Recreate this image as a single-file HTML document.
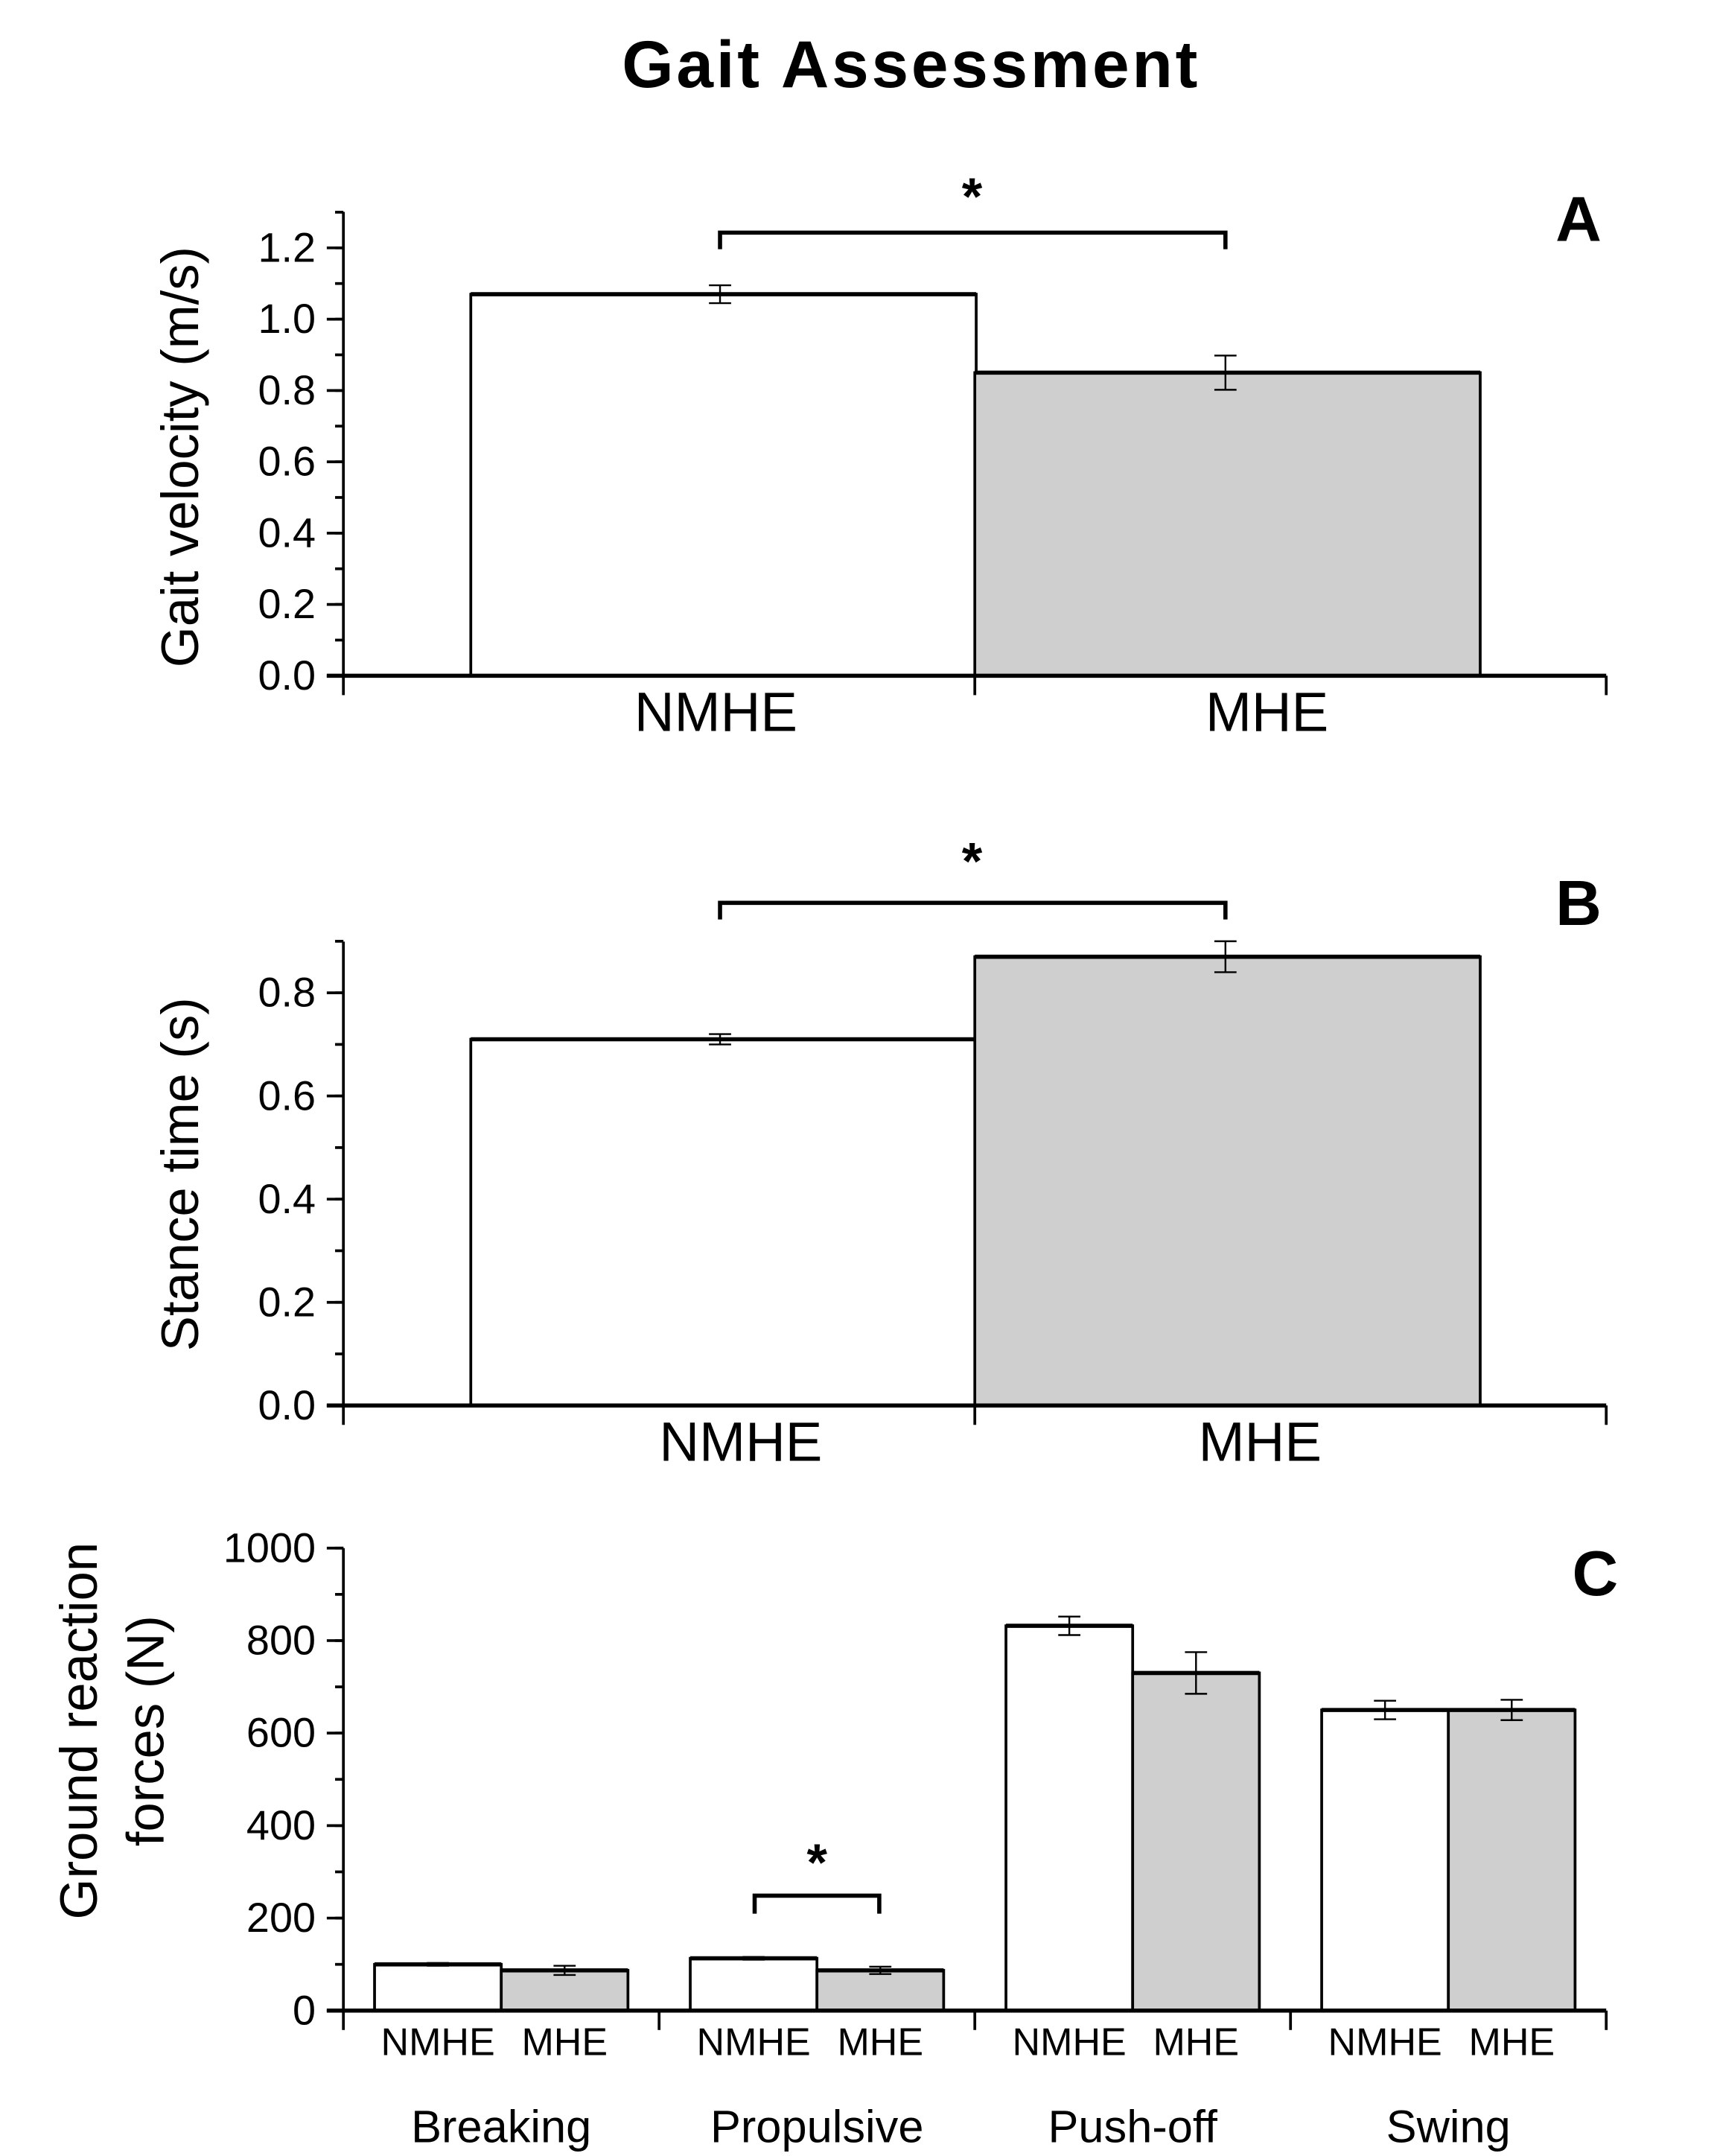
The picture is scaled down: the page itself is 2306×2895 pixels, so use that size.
<!DOCTYPE html>
<html><head><meta charset="utf-8"><style>
html,body{margin:0;padding:0;background:#fff}
svg{display:block}
text{font-family:"Liberation Sans",Arial,sans-serif;fill:#000}
</style></head>
<body>
<svg id="chart" width="2306" height="2895" viewBox="0 0 1240 1557" preserveAspectRatio="none" xmlns="http://www.w3.org/2000/svg">
<rect width="1240" height="1557" fill="#fff"/>
<text x="658" y="63" font-size="48" font-weight="bold" text-anchor="middle" letter-spacing="2">Gait  Assessment</text>
<g id="plots"></g>
</svg>
<script>
// Panel A data
const aCats = ["NMHE", "MHE"];
const aVals = [1.07, 0.85];
const aErr = [0.025, 0.048];
const aTicks = [0.0, 0.2, 0.4, 0.6, 0.8, 1.0, 1.2];
// Panel B data
const bCats = ["NMHE", "MHE"];
const bVals = [0.71, 0.87];
const bErr = [0.01, 0.03];
const bTicks = [0.0, 0.2, 0.4, 0.6, 0.8];
// Panel C data
const cGroups = ["Breaking", "Propulsive", "Push-off", "Swing"];
const cNMHE = [100, 113, 832, 650];
const cMHE = [87, 87, 730, 650];
const cErrN = [3, 3, 20, 20];
const cErrM = [10, 8, 45, 22];
const cTicks = [0, 200, 400, 600, 800, 1000];

const NS = "http://www.w3.org/2000/svg";
const root = document.getElementById('plots');
function mk(tag, attrs, parent, txt) {
  const e = document.createElementNS(NS, tag);
  for (const k in attrs) e.setAttribute(k, attrs[k]);
  if (txt !== undefined) e.textContent = txt;
  (parent || root).appendChild(e);
  return e;
}
const GREY = "#cfcfcf";

function axisY(g, x, yTop, yScale, ticks, minorStep, yMaxVal, fmt, fs) {
  const ax = mk('line', {x1: x, x2: x, y1: yTop, y2: yScale(0), stroke: '#000', 'stroke-width': 2}, g);
  
  
  for (let v = 0; v <= yMaxVal + 1e-9; v += minorStep) {
    mk('line', {x1: x - 6, x2: x, y1: yScale(v), y2: yScale(v), stroke: '#000', 'stroke-width': 2}, g);
  }
  ticks.forEach(t => {
    mk('line', {x1: x - 12, x2: x, y1: yScale(t), y2: yScale(t), stroke: '#000', 'stroke-width': 2}, g);
    const tl = mk('text', {x: x - 20, y: yScale(t) + 10, 'font-size': fs, 'text-anchor': 'end'}, g, fmt(t));
    
    
  });
}
function errBar(g, cx, yScale, v, e, cap) {
  mk('line', {x1: cx, x2: cx, y1: yScale(v + e), y2: yScale(v - e), stroke: '#000', 'stroke-width': 1.3}, g);
  mk('line', {x1: cx - cap, x2: cx + cap, y1: yScale(v + e), y2: yScale(v + e), stroke: '#000', 'stroke-width': 1.3}, g);
  mk('line', {x1: cx - cap, x2: cx + cap, y1: yScale(v - e), y2: yScale(v - e), stroke: '#000', 'stroke-width': 1.3}, g);
}
function bracket(g, x1, x2, y, drop, starX, starY, size) {
  const b = mk('path', {d: `M${x1},${y + drop} V${y} H${x2} V${y + drop}`, fill: 'none', stroke: '#000', 'stroke-width': 3}, g);
  
  
  const s = mk('text', {x: starX, y: starY, 'font-size': size, 'font-weight': 'bold', 'text-anchor': 'middle'}, g, '*');
  
  
}

function twoBar(name, cats, vals, errs, ticks, yMax, y0, yTopPix, axisTop, letter, letterY, ylabel, labY, brY, starY, xlabPos, minor) {
  const g = mk('g', {});
  
  
  const top = ticks[ticks.length - 1];
  const ys = v => y0 - (v / top) * (y0 - yTopPix);
  const xL = 248, xR = 1160, mid = 704;
  const barX = [340, 704], bw = 365;
  vals.forEach((v, i) => {
    const r = mk('rect', {x: barX[i], y: ys(v), width: bw, height: ys(0) - ys(v), fill: i ? GREY : '#fff', stroke: '#000', 'stroke-width': 2}, g);
    
    
    mk('line', {x1: barX[i], x2: barX[i] + bw, y1: ys(v), y2: ys(v), stroke: '#000', 'stroke-width': 3}, g);
  });
  vals.forEach((v, i) => errBar(g, [520, 885][i], ys, v, errs[i], 8));
  axisY(g, xL, axisTop, ys, ticks, minor, yMax, t => t.toFixed(1), 30);
  const xa = mk('line', {x1: xL - 12, x2: xR, y1: ys(0), y2: ys(0), stroke: '#000', 'stroke-width': 3}, g);
  
  
  [xL, mid, xR].forEach(x => mk('line', {x1: x, x2: x, y1: ys(0), y2: ys(0) + 14, stroke: '#000', 'stroke-width': 2}, g));
  cats.forEach((c, i) => {
    const t = mk('text', {x: xlabPos[i], y: ys(0) + 40, 'font-size': 40, 'text-anchor': 'middle'}, g, c);
    
    
  });
  bracket(g, 520, 885, brY, 12, 702, starY, 38);
  const L = mk('text', {x: 1140, y: letterY, 'font-size': 46, 'font-weight': 'bold', 'text-anchor': 'middle'}, g, letter);
  
  
  const yl = mk('text', {x: 0, y: 0, 'font-size': 38, 'text-anchor': 'middle', transform: `translate(143,${labY}) rotate(-90)`}, g, ylabel);
  
  
}
twoBar('panel-a-gait-velocity', aCats, aVals, aErr, aTicks, 1.3, 488, 179, 153, 'A', 174, 'Gait velocity (m/s)', 330, 168, 155, [517, 915], 0.1);
twoBar('panel-b-stance-time', bCats, bVals, bErr, bTicks, 0.9, 1015, 717, 680, 'B', 668, 'Stance time (s)', 848, 652, 635, [535, 910], 0.1);

(function () {
  const g = mk('g', {});
  
  
  const y0 = 1452, yT = 1118;
  const ys = v => y0 - v / 1000 * (y0 - yT);
  const xL = 248, xR = 1160, gw = (xR - xL) / cGroups.length, bw = 91.5;
  cGroups.forEach((grp, i) => {
    const c = xL + gw * (i + 0.5);
    [[cNMHE, cErrN, '#fff', 'nmhe'], [cMHE, cErrM, GREY, 'mhe']].forEach((s, j) => {
      const x = c - bw + j * bw, v = s[0][i];
      const r = mk('rect', {x: x, y: ys(v), width: bw, height: ys(0) - ys(v), fill: s[2], stroke: '#000', 'stroke-width': 2}, g);
      
      
      mk('line', {x1: x, x2: x + bw, y1: ys(v), y2: ys(v), stroke: '#000', 'stroke-width': 3}, g);
      errBar(g, x + bw / 2, ys, v, s[1][i], 8);
      const t = mk('text', {x: x + bw / 2, y: 1484, 'font-size': 28, 'text-anchor': 'middle'}, g, j ? 'MHE' : 'NMHE');
      
      
    });
    const gl = mk('text', {x: c, y: 1547, 'font-size': 33, 'text-anchor': 'middle'}, g, grp);
    
    
  });
  axisY(g, xL, yT, ys, cTicks, 100, 1000, t => String(t), 30);
  const xa = mk('line', {x1: xL - 12, x2: xR, y1: y0, y2: y0, stroke: '#000', 'stroke-width': 3}, g);
  
  
  for (let i = 0; i <= cGroups.length; i++) mk('line', {x1: xL + gw * i, x2: xL + gw * i, y1: y0, y2: y0 + 14, stroke: '#000', 'stroke-width': 2}, g);
  bracket(g, 545, 635, 1369, 13, 590, 1358, 38);
  const L = mk('text', {x: 1152, y: 1152, 'font-size': 46, 'font-weight': 'bold', 'text-anchor': 'middle'}, g, 'C');
  
  
  const y1 = mk('text', {x: 0, y: 0, 'font-size': 38, 'text-anchor': 'middle', transform: 'translate(70,1250) rotate(-90)'}, g, 'Ground reaction');
  
  
  const y2 = mk('text', {x: 0, y: 0, 'font-size': 38, 'text-anchor': 'middle', transform: 'translate(118,1250) rotate(-90)'}, g, 'forces (N)');
  
  
})();
</script>
</body></html>
